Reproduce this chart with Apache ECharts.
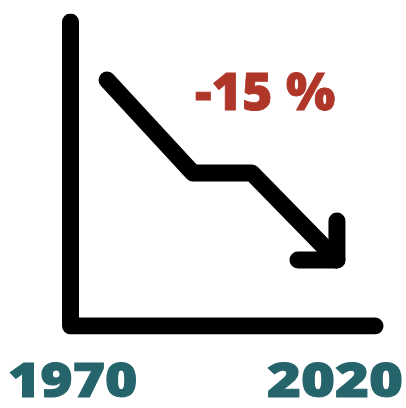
<!DOCTYPE html>
<html><head><meta charset="utf-8">
<script src="https://cdn.jsdelivr.net/npm/echarts@6/dist/echarts.min.js"></script>
<style>html,body{margin:0;padding:0;background:#fff}#c{width:406px;height:408px}</style>
</head><body><div id="c"></div>
<script>
// Data (index units 0..100 on both axes)
const axisFrame = [[0, 100], [0, 0], [100, 0]];
const trendLine = [[12.0, 80.9], [40.2, 50.3], [59.6, 50.3], [87.5, 21.7]];
const arrowHead = [[74.7, 21.7], [87.5, 21.7], [87.5, 34.5]];
const changeLabel = '-15 %';
const startYear = '1970';
const endYear = '2020';

const chart = echarts.init(document.getElementById('c'), null, {renderer: 'canvas'});
const lineStyle = {color: '#000', width: 17, cap: 'round', join: 'round'};
function mk(data) {
  return {type: 'line', data: data, symbol: 'none', silent: true, animation: false,
    lineStyle: lineStyle};
}
chart.setOption({
  animation: false,
  grid: {left: 70.5, right: 31, top: 22, bottom: 82},
  xAxis: {type: 'value', min: 0, max: 100, show: false},
  yAxis: {type: 'value', min: 0, max: 100, show: false},
  series: [mk(axisFrame), mk(trendLine), mk(arrowHead)],
  graphic: [
    {type: 'text', x: 195, y: 69, scaleX: 1.0, style: {text: changeLabel, fill: '#b0362a',
      font: '800 52px "Open Sans"', textVerticalAlign: 'top',
      stroke: '#b0362a', lineWidth: 0.8}},
    {type: 'text', x: 8, y: 359, scaleX: 1.15, style: {text: startYear, fill: '#26646c',
      font: '800 48px "Open Sans"', textVerticalAlign: 'top',
      stroke: '#26646c', lineWidth: 1}},
    {type: 'text', x: 267, y: 359, scaleX: 1.21, style: {text: endYear, fill: '#26646c',
      font: '800 48px "Open Sans"', textVerticalAlign: 'top',
      stroke: '#26646c', lineWidth: 1}}
  ]
});
</script></body></html>
